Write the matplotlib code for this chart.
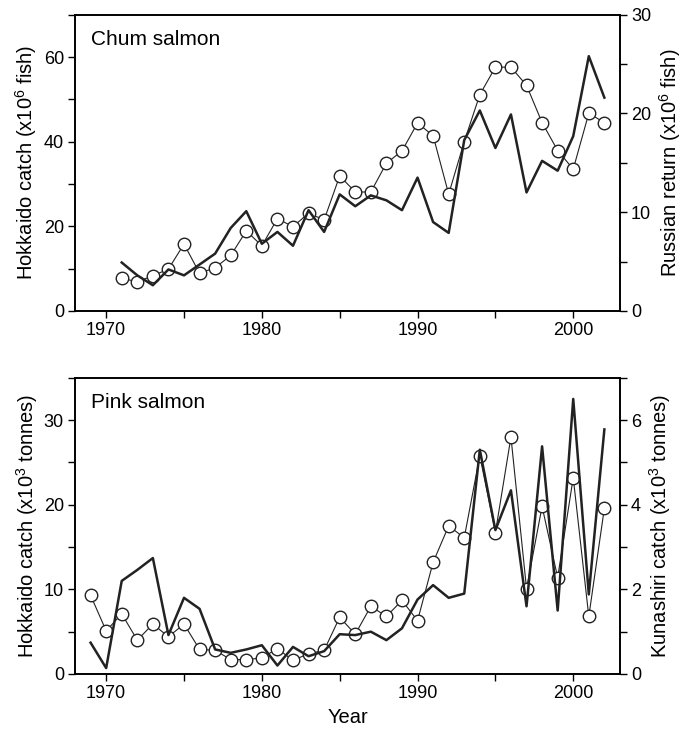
import matplotlib
matplotlib.use('Agg')
import matplotlib.pyplot as plt
from matplotlib.ticker import MultipleLocator

plt.rcParams['font.family'] = ['Liberation Sans', 'DejaVu Sans']
plt.rcParams['mathtext.fontset'] = 'custom'
plt.rcParams['mathtext.rm'] = 'Liberation Sans'
plt.rcParams['mathtext.default'] = 'regular'

# chum salmon
chum_years = list(range(1971, 2003))
chum_hokkaido = [7.7, 6.9, 8.3, 9.9, 15.8, 8.9, 10.2, 13.1, 18.9, 15.4, 21.8, 19.9,
                 23.1, 21.5, 31.9, 28.1, 28.1, 34.9, 37.8, 44.4, 41.4, 27.6, 40.0, 51.1,
                 57.6, 57.6, 53.3, 44.5, 37.9, 33.5, 46.7, 44.5]
chum_russia = [4.9, 3.6, 2.6, 4.2, 3.6, 4.7, 5.8, 8.4, 10.1, 6.8, 8.0, 6.6,
               10.2, 8.0, 11.8, 10.6, 11.7, 11.2, 10.2, 13.5, 9.0, 7.9, 17.3, 20.3,
               16.5, 19.9, 12.0, 15.2, 14.2, 17.7, 25.8, 21.6]

# pink salmon
pink_years = list(range(1969, 2003))
pink_hokkaido = [9.3, 5.1, 7.1, 4.0, 5.9, 4.4, 5.9, 2.9, 2.8, 1.7, 1.7, 1.9,
                 3.0, 1.6, 2.4, 2.8, 6.7, 4.7, 8.0, 6.8, 8.7, 6.3, 13.2, 17.5,
                 16.1, 25.8, 16.7, 28.0, 10.1, 19.8, 11.4, 23.2, 6.8, 19.6]
pink_kunashiri = [0.74, 0.14, 2.2, 2.46, 2.74, 0.92, 1.8, 1.54, 0.58, 0.5, 0.58, 0.68,
                  0.2, 0.64, 0.42, 0.54, 0.94, 0.92, 1.0, 0.8, 1.08, 1.76, 2.1, 1.8,
                  1.9, 5.3, 3.4, 4.34, 1.6, 5.38, 1.5, 6.5, 1.88, 5.78]

fig = plt.figure(figsize=(6.82, 7.35), dpi=100)
ax1 = fig.add_axes([0.110, 0.577, 0.799, 0.403])
ax2 = fig.add_axes([0.110, 0.083, 0.799, 0.403])

tick_fs = 13
label_fs = 14.5


def style_axes(ax, axr, lmaj, lmin, rmaj, rmin):
    ax.set_xlim(1968, 2003)
    ax.xaxis.set_major_locator(MultipleLocator(10))
    ax.xaxis.set_minor_locator(MultipleLocator(5))
    ax.yaxis.set_major_locator(MultipleLocator(lmaj))
    ax.yaxis.set_minor_locator(MultipleLocator(lmin))
    axr.yaxis.set_major_locator(MultipleLocator(rmaj))
    axr.yaxis.set_minor_locator(MultipleLocator(rmin))
    for a in (ax, axr):
        a.tick_params(which='both', direction='out', length=5, width=1, labelsize=tick_fs, pad=3)
        for s in a.spines.values():
            s.set_linewidth(1.2)


# top panel
ax1.plot(chum_years, chum_hokkaido, color='#222222', lw=0.8, marker='o', ms=9,
         mfc='white', mec='#222222', mew=1.0, zorder=2)
ax1.set_ylim(0, 70)
ax1r = ax1.twinx()
ax1r.plot(chum_years, chum_russia, color='#222222', lw=1.8, zorder=3)
ax1r.set_ylim(0, 30)
style_axes(ax1, ax1r, 20, 10, 10, 5)
ax1.set_ylabel('Hokkaido catch (x10$^6$ fish)', fontsize=label_fs, labelpad=3)
ax1r.set_ylabel('Russian return (x10$^6$ fish)', fontsize=label_fs, labelpad=4)
ax1.text(0.03, 0.95, 'Chum salmon', transform=ax1.transAxes, fontsize=15,
         ha='left', va='top')

# bottom panel
ax2.plot(pink_years, pink_hokkaido, color='#222222', lw=0.8, marker='o', ms=9,
         mfc='white', mec='#222222', mew=1.0, zorder=2)
ax2.set_ylim(0, 35)
ax2r = ax2.twinx()
ax2r.plot(pink_years, pink_kunashiri, color='#222222', lw=1.8, zorder=3)
ax2r.set_ylim(0, 7)
style_axes(ax2, ax2r, 10, 5, 2, 1)
ax2.set_ylabel('Hokkaido catch (x10$^3$ tonnes)', fontsize=label_fs, labelpad=3)
ax2r.set_ylabel('Kunashiri catch (x10$^3$ tonnes)', fontsize=label_fs, labelpad=4)
ax2.set_xlabel('Year', fontsize=label_fs, labelpad=4)
ax2.text(0.03, 0.95, 'Pink salmon', transform=ax2.transAxes, fontsize=15,
         ha='left', va='top')

fig.savefig('out.png', dpi=100)
